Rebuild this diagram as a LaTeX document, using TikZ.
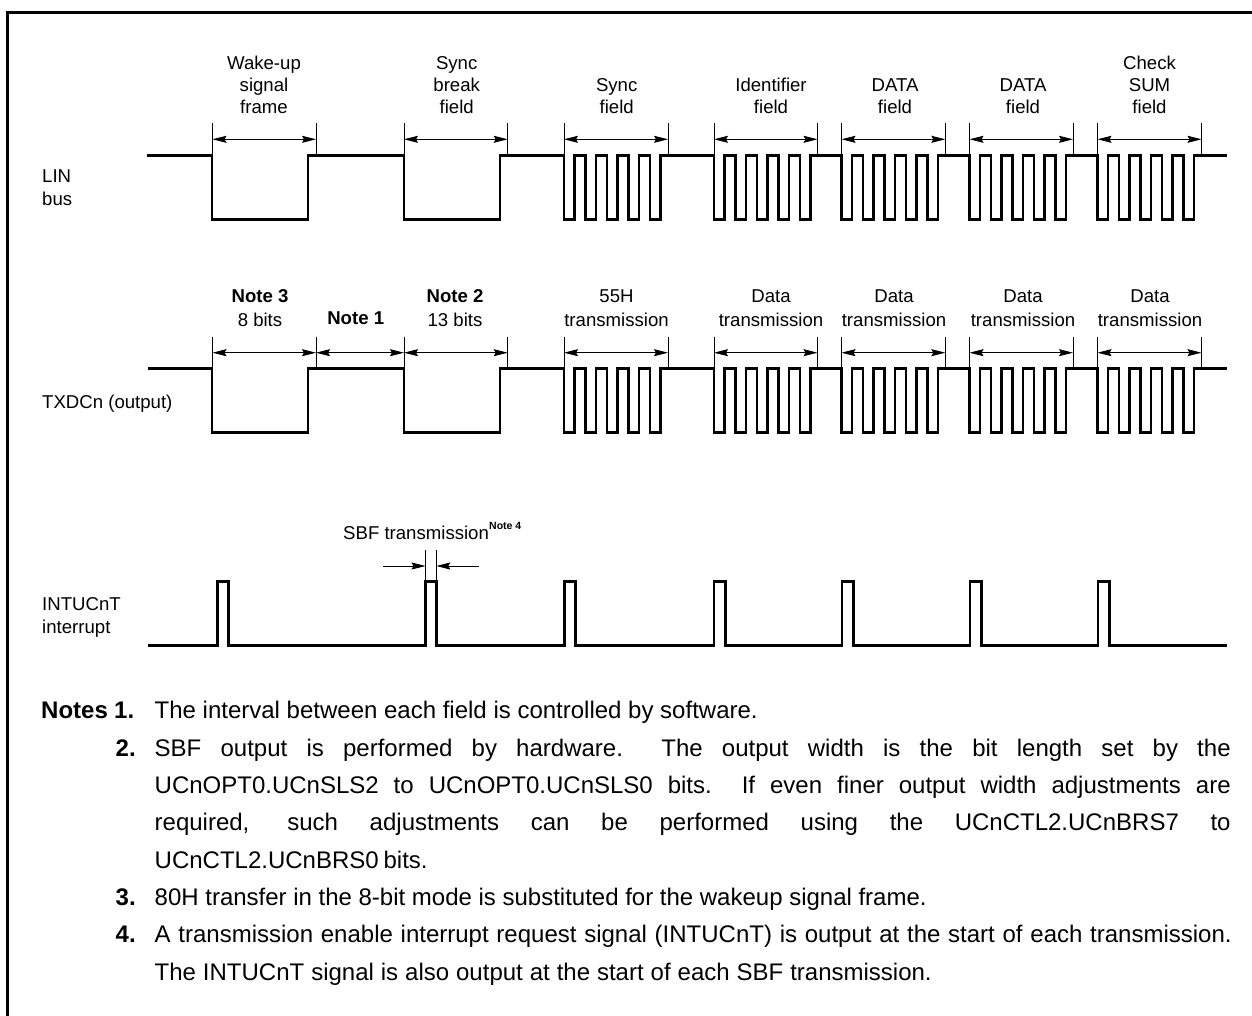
\documentclass[tikz,border=0pt]{standalone}
\usepackage{fontspec}
\usetikzlibrary{arrows.meta}
\setmainfont{Liberation Sans}
\newcommand\train{-- ++(0,64) -- ++(10.5,0) -- ++(0,-64) -- ++(11,0) -- ++(0,64) -- ++(10.5,0) -- ++(0,-64) -- ++(11,0) -- ++(0,64) -- ++(10.5,0) -- ++(0,-64) -- ++(11,0) -- ++(0,64) -- ++(10.5,0) -- ++(0,-64) -- ++(11,0) -- ++(0,64) -- ++(10.5,0) -- ++(0,-64)}
\newcommand\brk{-- ++(0,64) -- ++(96,0) -- ++(0,-64)}
\newcommand\spike{-- ++(0,-64) -- ++(11.3,0) -- ++(0,64)}
\newcommand\justline[2]{\makebox[#1pt][s]{#2}}
\tikzset{
  wave/.style={line width=2.5pt,line join=miter,line cap=butt},
  extline/.style={line width=0.9pt},
  dimarrow/.style={line width=0.8pt,{Stealth[length=14pt,width=7pt,inset=2pt]}-{Stealth[length=14pt,width=7pt,inset=2pt]}},
  singlearrow/.style={line width=0.8pt,-{Stealth[length=14pt,width=7pt,inset=2pt]}},
  lab/.style={inner sep=0pt,anchor=south,align=center,font=\fontsize{18.6}{22}\selectfont},
  labtx/.style={inner sep=0pt,anchor=south,align=center,font=\fontsize{18.6}{24.5}\selectfont},
  side/.style={inner sep=0pt,anchor=base west,align=left,font=\fontsize{18.6}{22}\selectfont},
  notetxt/.style={inner sep=0pt,anchor=base west,font=\fontsize{24}{28}\selectfont},
  notenum/.style={inner sep=0pt,anchor=base west,font=\fontsize{24}{28}\selectfont\bfseries},
}
\begin{document}
\begin{tikzpicture}[x=1pt,y=-1pt]
\useasboundingbox (0,0) rectangle (1252,1016);
% frame
\draw[line width=3pt] (7,1016) -- (7,12.5) -- (1252,12.5);
% LIN bus waveform
\draw[wave] (147,155.5) -- (212,155.5) \brk -- (404,155.5) \brk -- (564,155.5) \train -- (714,155.5) \train -- (841.5,155.5) \train -- (969.5,155.5) \train -- (1097.5,155.5) \train -- (1226.5,155.5);
% TXD waveform
\draw[wave] (148,368.7) -- (212,368.7) \brk -- (404,368.7) \brk -- (564,368.7) \train -- (714,368.7) \train -- (841.5,368.7) \train -- (969.5,368.7) \train -- (1097.5,368.7) \train -- (1226.5,368.7);
% INT waveform
\draw[wave] (148,645.7) -- (217.3,645.7) \spike -- (425.3,645.7) \spike -- (564.3,645.7) \spike -- (714,645.7) \spike -- (842,645.7) \spike -- (970,645.7) \spike -- (1098,645.7) \spike -- (1226.5,645.7);
% dimension marks, LIN row
\foreach \n/\a/\b in {wu/212.5/316,sb/404/507.7,sy/564/668,id/714/817.5,da/841.5/945.3,db/969.5/1073,cs/1097.5/1201.5}{
  \coordinate (\n-lt) at (\a,123);
  \coordinate (\n-lb) at (\a,155);
  \coordinate (\n-rt) at (\b,123);
  \coordinate (\n-rb) at (\b,155);
  \coordinate (\n-la) at (\a,139.3);
  \coordinate (\n-ra) at (\b,139.3);
  \draw[extline] (\n-lt) -- (\n-lb);
  \draw[extline] (\n-rt) -- (\n-rb);
  \draw[dimarrow] (\n-la) -- (\n-ra);
}
% dimension marks, TXD row
\foreach \n/\a/\b in {tw/212.5/316,tn/316/404,ts/404/507.7,ty/564/668,ti/714/817.5,ta/841.5/945.3,tb/969.5/1073,tc/1097.5/1201.5}{
  \coordinate (\n-lt) at (\a,336.7);
  \coordinate (\n-lb) at (\a,368);
  \coordinate (\n-rt) at (\b,336.7);
  \coordinate (\n-rb) at (\b,368);
  \coordinate (\n-la) at (\a,352.7);
  \coordinate (\n-ra) at (\b,352.7);
  \draw[extline] (\n-lt) -- (\n-lb);
  \draw[extline] (\n-rt) -- (\n-rb);
  \draw[dimarrow] (\n-la) -- (\n-ra);
}
% SBF marks
\coordinate (sbf-lt) at (425.5,550);
\coordinate (sbf-lb) at (425.5,581);
\coordinate (sbf-rt) at (436.3,550);
\coordinate (sbf-rb) at (436.3,581);
\coordinate (sbf-lo) at (383.3,566);
\coordinate (sbf-li) at (425.5,566);
\coordinate (sbf-ro) at (479,566);
\coordinate (sbf-ri) at (436.3,566);
\draw[extline] (sbf-lt) -- (sbf-lb);
\draw[extline] (sbf-rt) -- (sbf-rb);
\draw[singlearrow] (sbf-lo) -- (sbf-li);
\draw[singlearrow] (sbf-ro) -- (sbf-ri);
% LIN labels
\node[lab] (l1) at (264,114) {Wake-up\\signal\\frame};
\node[lab] (l2) at (456.7,114) {Sync\\break\\field};
\node[lab] (l3) at (616.7,114) {Sync\\field};
\node[lab] (l4) at (771,114) {Identifier\\field};
\node[lab] (l5) at (895,114) {DATA\\field};
\node[lab] (l6) at (1023,114) {DATA\\field};
\node[lab] (l7) at (1149.5,114) {Check\\SUM\\field};
% TXD labels
\node[labtx] (t1) at (260,327) {\textbf{Note 3}\\8 bits};
\node[labtx] (t2) at (355.7,325) {\textbf{Note 1}};
\node[labtx] (t3) at (455,327) {\textbf{Note 2}\\13 bits};
\node[labtx] (t4) at (616.5,327) {55H\\transmission};
\node[labtx] (t5) at (771,327) {Data\\transmission};
\node[labtx] (t6) at (894,327) {Data\\transmission};
\node[labtx] (t7) at (1023,327) {Data\\transmission};
\node[labtx] (t8) at (1150,327) {Data\\transmission};
% side labels
\node[side] (s1) at (42,183) {LIN};
\node[side] (s1b) at (42,206) {bus};
\node[side] (s2) at (42,408) {TXDCn (output)};
\node[side] (s3) at (42,610) {INTUCnT};
\node[side] (s3b) at (42,633) {interrupt};
\node[side] (sbft) at (343,539) {SBF transmission};
\node[inner sep=0pt,anchor=base west,font=\fontsize{10.5}{12}\selectfont\bfseries] (sbfn) at (489,529) {Note 4};
% notes
\node[notenum] (n1) at (41,718) {\justline{93}{Notes 1.}};
\node[notenum] (n2) at (115.5,756) {2.};
\node[notenum] (n3) at (115.5,905) {3.};
\node[notenum] (n4) at (115.5,942) {4.};
\node[notetxt] (a1) at (154.5,718) {\justline{603}{The interval between each field is controlled by software.}};
\node[notetxt] (b1) at (154.5,756) {\justline{1076}{SBF output is performed by hardware.\ \ The output width is the bit length set by the}};
\node[notetxt] (b2) at (154.5,793) {\justline{1076}{UCnOPT0.UCnSLS2 to UCnOPT0.UCnSLS0 bits.\ \ If even finer output width adjustments are}};
\node[notetxt] (b3) at (154.5,830) {\justline{1076}{required, such adjustments can be performed using the UCnCTL2.UCnBRS7 to}};
\node[notetxt] (b4) at (154.5,868) {\justline{273}{UCnCTL2.UCnBRS0 bits.}};
\node[notetxt] (c1) at (154.5,905) {\justline{772}{80H transfer in the 8-bit mode is substituted for the wakeup signal frame.}};
\node[notetxt] (d1) at (154.5,942) {\justline{1077}{A transmission enable interrupt request signal (INTUCnT) is output at the start of each transmission.}};
\node[notetxt] (d2) at (154.5,980) {\justline{777}{The INTUCnT signal is also output at the start of each SBF transmission.}};
\end{tikzpicture}
\end{document}
